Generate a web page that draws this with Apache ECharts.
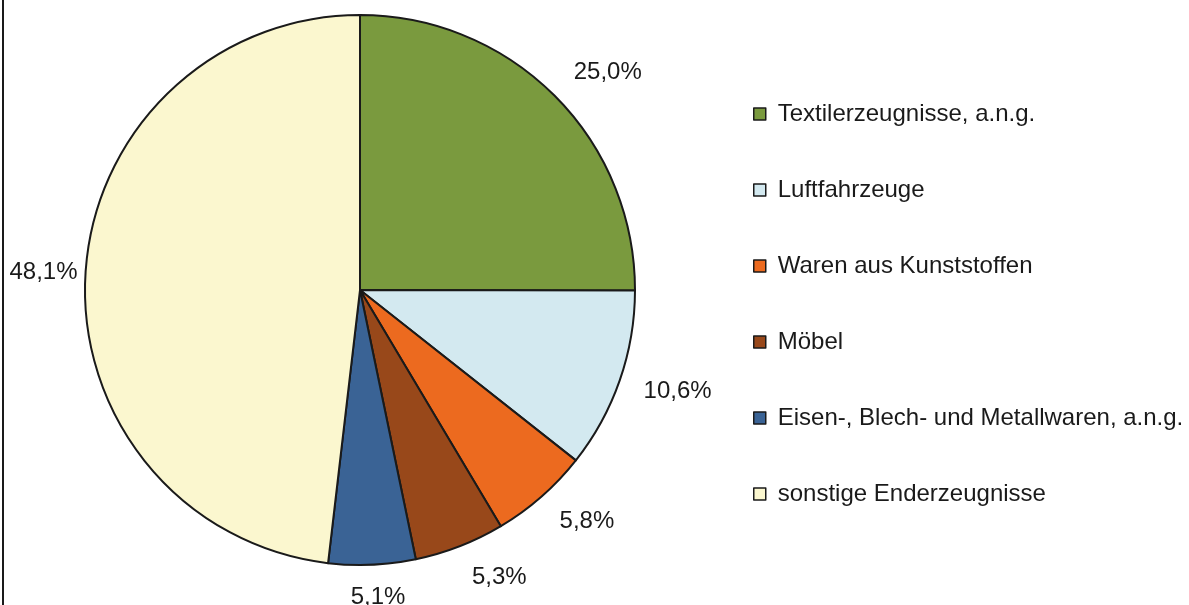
<!DOCTYPE html>
<html>
<head>
<meta charset="utf-8">
<script src="https://cdn.jsdelivr.net/npm/echarts@6/dist/echarts.min.js"></script>
<style>
  html, body { margin: 0; padding: 0; background: #fff; }
  #chart { width: 1189px; height: 605px; }
</style>
</head>
<body>
<div id="chart"></div>
<script>
// Anteile in Prozent, im Uhrzeigersinn ab 12 Uhr
var categories = [
  "Textilerzeugnisse, a.n.g.",
  "Luftfahrzeuge",
  "Waren aus Kunststoffen",
  "Möbel",
  "Eisen-, Blech- und Metallwaren, a.n.g.",
  "sonstige Enderzeugnisse"
];
var shares = [25.0, 10.6, 5.8, 5.3, 5.1, 48.1];
var colors = ["#7a9a3e", "#d3e9f0", "#ec6a1f", "#98481a", "#3a6395", "#fbf7cf"];

var cx = 360, cy = 290, radius = 275;

var chart = echarts.init(document.getElementById("chart"));

chart.setOption({
  animation: false,
  color: colors,
  graphic: [
    {
      type: "line",
      shape: { x1: 3, y1: 0, x2: 3, y2: 605 },
      style: { stroke: "#1a1a1a", lineWidth: 2 }
    }
  ],
  legend: {
    orient: "vertical",
    left: 748,
    top: 97,
    itemWidth: 12,
    itemHeight: 12,
    itemGap: 52,
    icon: "rect",
    itemStyle: { borderColor: "#1a1a1a", borderWidth: 1.5 },
    textStyle: {
      fontFamily: "Liberation Sans, Arial, sans-serif",
      fontSize: 24,
      lineHeight: 24,
      color: "#1a1a1a",
      padding: [0, 0, 0, 7]
    },
    data: categories
  },
  series: [
    {
      type: "pie",
      center: [cx, cy],
      radius: radius,
      startAngle: 90,
      clockwise: true,
      avoidLabelOverlap: false,
      itemStyle: { borderColor: "#1a1a1a", borderWidth: 2 },
      label: {
        show: true,
        position: "outside",
        overflow: "none",
        fontFamily: "Liberation Sans, Arial, sans-serif",
        fontSize: 24,
        color: "#1a1a1a",
        formatter: function (p) {
          return p.value.toFixed(1).replace(".", ",") + "%";
        }
      },
      labelLine: { show: false, length: 20, length2: 0 },
      labelLayout: function (p) {
        // Beschriftung etwas vom Kreis wegschieben, wie bei Excel
        var pt = p.labelLinePoints ? p.labelLinePoints[0] : null;
        if (!pt) return {};
        var ux = (pt[0] - cx) / radius;
        var uy = (pt[1] - cy) / radius;
        var dx = 0;
        if (Math.abs(ux) < 0.2) {
          dx = p.align === "right" ? p.labelRect.width / 2 : -p.labelRect.width / 2;
        } else if (p.align === "right") {
          dx = 17;
        }
        return { dx: dx, dy: 13 * uy };
      },
      emphasis: { disabled: true },
      data: categories.map(function (c, i) {
        return { name: c, value: shares[i] };
      })
    }
  ]
});
</script>
</body>
</html>
